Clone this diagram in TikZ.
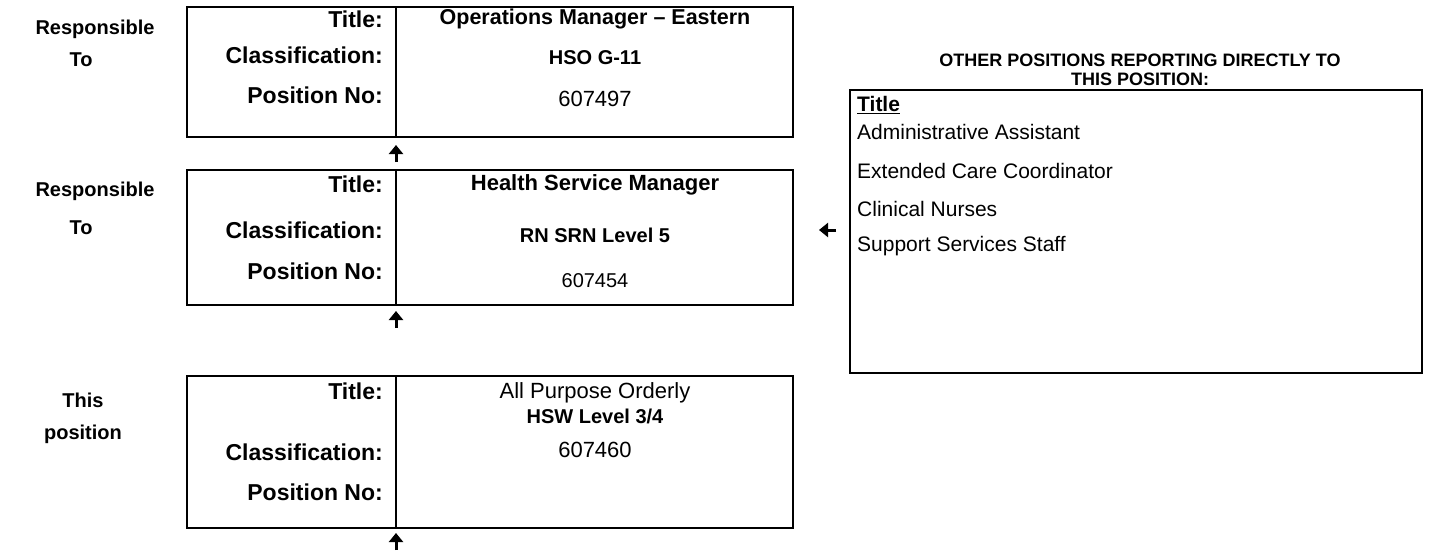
\documentclass[tikz,border=0pt]{standalone}
\usepackage{fontspec}
\setmainfont{Liberation Sans}
\usetikzlibrary{arrows.meta}
\begin{document}
\begin{tikzpicture}[x=1pt,y=-1pt,
  box/.style={draw,line width=2pt},
  lab/.style={font=\bfseries\fontsize{23}{25}\selectfont,anchor=east,inner sep=0},
  val/.style={font=\bfseries\fontsize{20}{22}\selectfont,inner sep=0},
  num/.style={font=\fontsize{21}{23}\selectfont,inner sep=0},
  side/.style={font=\bfseries\fontsize{20}{22}\selectfont,inner sep=0},
  head/.style={font=\bfseries\fontsize{18}{20}\selectfont,inner sep=0},
  item/.style={font=\fontsize{21}{23}\selectfont,anchor=west,inner sep=0},
  uparr/.style={line width=3pt,-{Triangle[width=14pt,length=9pt]}},
]
\useasboundingbox (0,0) rectangle (1429,555);
% boxes
\draw[box] (187,7) rectangle (793,137);
\draw[box] (396,7) -- (396,137);
\draw[box] (187,170) rectangle (793,305);
\draw[box] (396,170) -- (396,305);
\draw[box] (187,376) rectangle (793,528);
\draw[box] (396,376) -- (396,528);
\draw[box] (850,90) rectangle (1422,373);
% left labels
\node[side] (r1a) at (95,29) {Responsible};
\node[side] (r1b) at (81,60) {To};
\node[side] (r2a) at (95,191) {Responsible};
\node[side] (r2b) at (81,228) {To};
\node[side] (r3a) at (83,400) {This};
\node[side] (r3b) at (83,434) {position};
% box 1
\node[lab] (t1) at (383,19) {Title:};
\node[lab] (c1) at (383,55) {Classification:};
\node[lab] (p1) at (383,95) {Position No:};
\node[val,font=\bfseries\fontsize{21.5}{23}\selectfont] (tv1) at (595,19) {Operations Manager – Eastern};
\node[val] (cv1) at (595,58) {HSO G-11};
\node[num,font=\fontsize{22}{24}\selectfont] (pv1) at (595,99) {607497};
% box 2
\node[lab] (t2) at (383,184) {Title:};
\node[lab] (c2) at (383,230) {Classification:};
\node[lab] (p2) at (383,271) {Position No:};
\node[val,font=\bfseries\fontsize{22}{24}\selectfont] (tv2) at (595,185) {Health Service Manager};
\node[val] (cv2) at (595,235) {RN SRN Level 5};
\node[num,font=\fontsize{20}{22}\selectfont] (pv2) at (595,281) {607454};
% box 3
\node[lab] (t3) at (383,391) {Title:};
\node[lab] (c3) at (383,452) {Classification:};
\node[lab] (p3) at (383,492) {Position No:};
\node[num,font=\fontsize{22}{24}\selectfont] (tv3) at (595,393) {All Purpose Orderly};
\node[val] (cv3) at (595,416) {HSW Level 3/4};
\node[num,font=\fontsize{22}{24}\selectfont] (pv3) at (595,450) {607460};
% right header and list
\node[head] (h1) at (1140,60) {OTHER POSITIONS REPORTING DIRECTLY TO};
\node[head] (h2) at (1140,79) {THIS POSITION:};
\node[item,font=\bfseries\fontsize{21}{23}\selectfont] (lt) at (857,105) {\underline{Title}};
\node[item] (l1) at (857,132) {Administrative Assistant};
\node[item] (l2) at (857,171) {Extended Care Coordinator};
\node[item] (l3) at (857,209) {Clinical Nurses};
\node[item] (l4) at (857,246) {Support Services Staff};
% arrows
\coordinate (a1s) at (396,162); \coordinate (a1e) at (396,145);
\coordinate (a2s) at (396,328); \coordinate (a2e) at (396,311);
\coordinate (a3s) at (396,550); \coordinate (a3e) at (396,533);
\coordinate (a4s) at (836,230); \coordinate (a4e) at (819,230);
\draw[uparr] (a1s) -- (a1e);
\draw[uparr] (a2s) -- (a2e);
\draw[uparr] (a3s) -- (a3e);
\draw[uparr] (a4s) -- (a4e);
\end{tikzpicture}
\end{document}
